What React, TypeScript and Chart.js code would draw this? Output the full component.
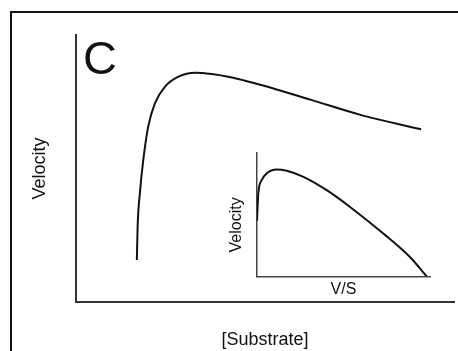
import React, { useEffect, useRef } from "react";
import { Chart, registerables } from "chart.js";

Chart.register(...registerables);

const FONT = "'Liberation Sans', Arial, Helvetica, sans-serif";

const PANEL_LABEL = "C";
const MAIN_X_TITLE = "[Substrate]";
const MAIN_Y_TITLE = "Velocity";
const INSET_X_TITLE = "V/S";
const INSET_Y_TITLE = "Velocity";

// main panel: velocity vs [substrate] (arbitrary units 0-100)
const substrate = [16.1, 16.3, 16.9, 17.8, 19.1, 20.9, 23.5, 27.1, 31.5, 35.9, 40.2, 44.7, 49.0, 62.2, 75.5, 91.3];
const velocity = [15.7, 28.2, 40.8, 53.2, 65.7, 74.5, 80.6, 84.4, 85.9, 85.4, 84.4, 82.9, 81.3, 75.7, 70.0, 64.7];

// inset: velocity vs V/S
const insetVS = [0, 0.75, 2.7, 5.6, 11.4, 17.2, 26.8, 40.3, 53.8, 73.0, 88.4, 98.1];
const insetV = [45, 67.2, 78, 83.5, 86.7, 85.6, 80.7, 69.9, 56.3, 34.7, 15.7, 0];

const panelLabelPlugin = {
  id: "panelLabel",
  afterDraw(chart: any) {
    const { ctx, chartArea } = chart;
    ctx.save();
    ctx.fillStyle = "#111";
    ctx.font = `47px ${FONT}`;
    ctx.textAlign = "left";
    ctx.textBaseline = "alphabetic";
    ctx.fillText(PANEL_LABEL, chartArea.left + 7, chartArea.top + 39);
    ctx.restore();
  },
};

const insetYLabelPlugin = {
  id: "insetYLabel",
  afterDraw(chart: any) {
    const { ctx, chartArea } = chart;
    ctx.save();
    ctx.fillStyle = "#111";
    ctx.font = `16px ${FONT}`;
    ctx.textAlign = "center";
    ctx.textBaseline = "middle";
    ctx.translate(chartArea.left - 20, chartArea.bottom - 51.5);
    ctx.rotate(-Math.PI / 2);
    ctx.fillText(INSET_Y_TITLE, 0, 0);
    ctx.restore();
  },
};

export default function App() {
  const mainRef = useRef<HTMLCanvasElement | null>(null);
  const insetRef = useRef<HTMLCanvasElement | null>(null);

  useEffect(() => {
    const main = new Chart(mainRef.current as HTMLCanvasElement, {
      type: "line",
      data: {
        datasets: [
          {
            data: substrate.map((x, i) => ({ x, y: velocity[i] })),
            borderColor: "#111",
            borderWidth: 2,
            pointRadius: 0,
            fill: false,
            cubicInterpolationMode: "monotone",
          },
        ],
      },
      options: {
        responsive: false,
        animation: false,
        layout: { padding: { top: 35, right: 4, bottom: 0, left: 10 } },
        plugins: { legend: { display: false }, tooltip: { enabled: false } },
        scales: {
          x: {
            type: "linear",
            min: 0,
            max: 100,
            grid: { display: false, drawTicks: false },
            ticks: { display: false },
            border: { display: true, color: "#333", width: 2 },
            title: {
              display: true,
              text: MAIN_X_TITLE,
              color: "#111",
              font: { family: FONT, size: 18 },
              padding: { top: 27.4, bottom: 0 },
            },
          },
          y: {
            type: "linear",
            min: 0,
            max: 100,
            grid: { display: false, drawTicks: false },
            ticks: { display: false },
            border: { display: true, color: "#333", width: 2 },
            title: {
              display: true,
              text: MAIN_Y_TITLE,
              color: "#111",
              font: { family: FONT, size: 18 },
              padding: { top: 19.7, bottom: 24.7 },
            },
          },
        },
      },
      plugins: [panelLabelPlugin],
    } as any);

    const inset = new Chart(insetRef.current as HTMLCanvasElement, {
      type: "line",
      data: {
        datasets: [
          {
            data: insetVS.map((x, i) => ({ x, y: insetV[i] })),
            borderColor: "#111",
            borderWidth: 2,
            pointRadius: 0,
            fill: false,
            cubicInterpolationMode: "monotone",
          },
        ],
      },
      options: {
        responsive: false,
        animation: false,
        layout: { padding: { top: 13, right: 20, bottom: 0, left: 37 } },
        plugins: { legend: { display: false }, tooltip: { enabled: false } },
        scales: {
          x: {
            type: "linear",
            min: 0,
            max: 100,
            grid: { display: false, drawTicks: false },
            ticks: { display: false },
            border: { display: true, color: "#444", width: 1.5 },
            title: {
              display: true,
              text: INSET_X_TITLE,
              color: "#111",
              font: { family: FONT, size: 16 },
              padding: { top: 3.4, bottom: 0 },
            },
          },
          y: {
            type: "linear",
            min: 0,
            max: 100,
            grid: { display: false, drawTicks: false },
            ticks: { display: false },
            border: { display: true, color: "#444", width: 1.5 },
            title: { display: false },
          },
        },
      },
      plugins: [insetYLabelPlugin],
    } as any);

    return () => {
      main.destroy();
      inset.destroy();
    };
  }, []);

  return (
    <div
      style={{
        position: "fixed",
        left: 0,
        top: 0,
        width: 458,
        height: 351,
        overflow: "hidden",
        background: "#fff",
      }}
    >
      <div
        style={{
          position: "absolute",
          left: 10,
          top: 11,
          width: 520,
          height: 420,
          border: "2px solid #111",
        }}
      />
      <canvas
        ref={mainRef}
        width={458}
        height={351}
        style={{ position: "absolute", left: 0, top: 0, width: 458, height: 351 }}
      />
      <canvas
        ref={insetRef}
        width={230}
        height={159}
        style={{ position: "absolute", left: 220, top: 140, width: 230, height: 159 }}
      />
    </div>
  );
}
